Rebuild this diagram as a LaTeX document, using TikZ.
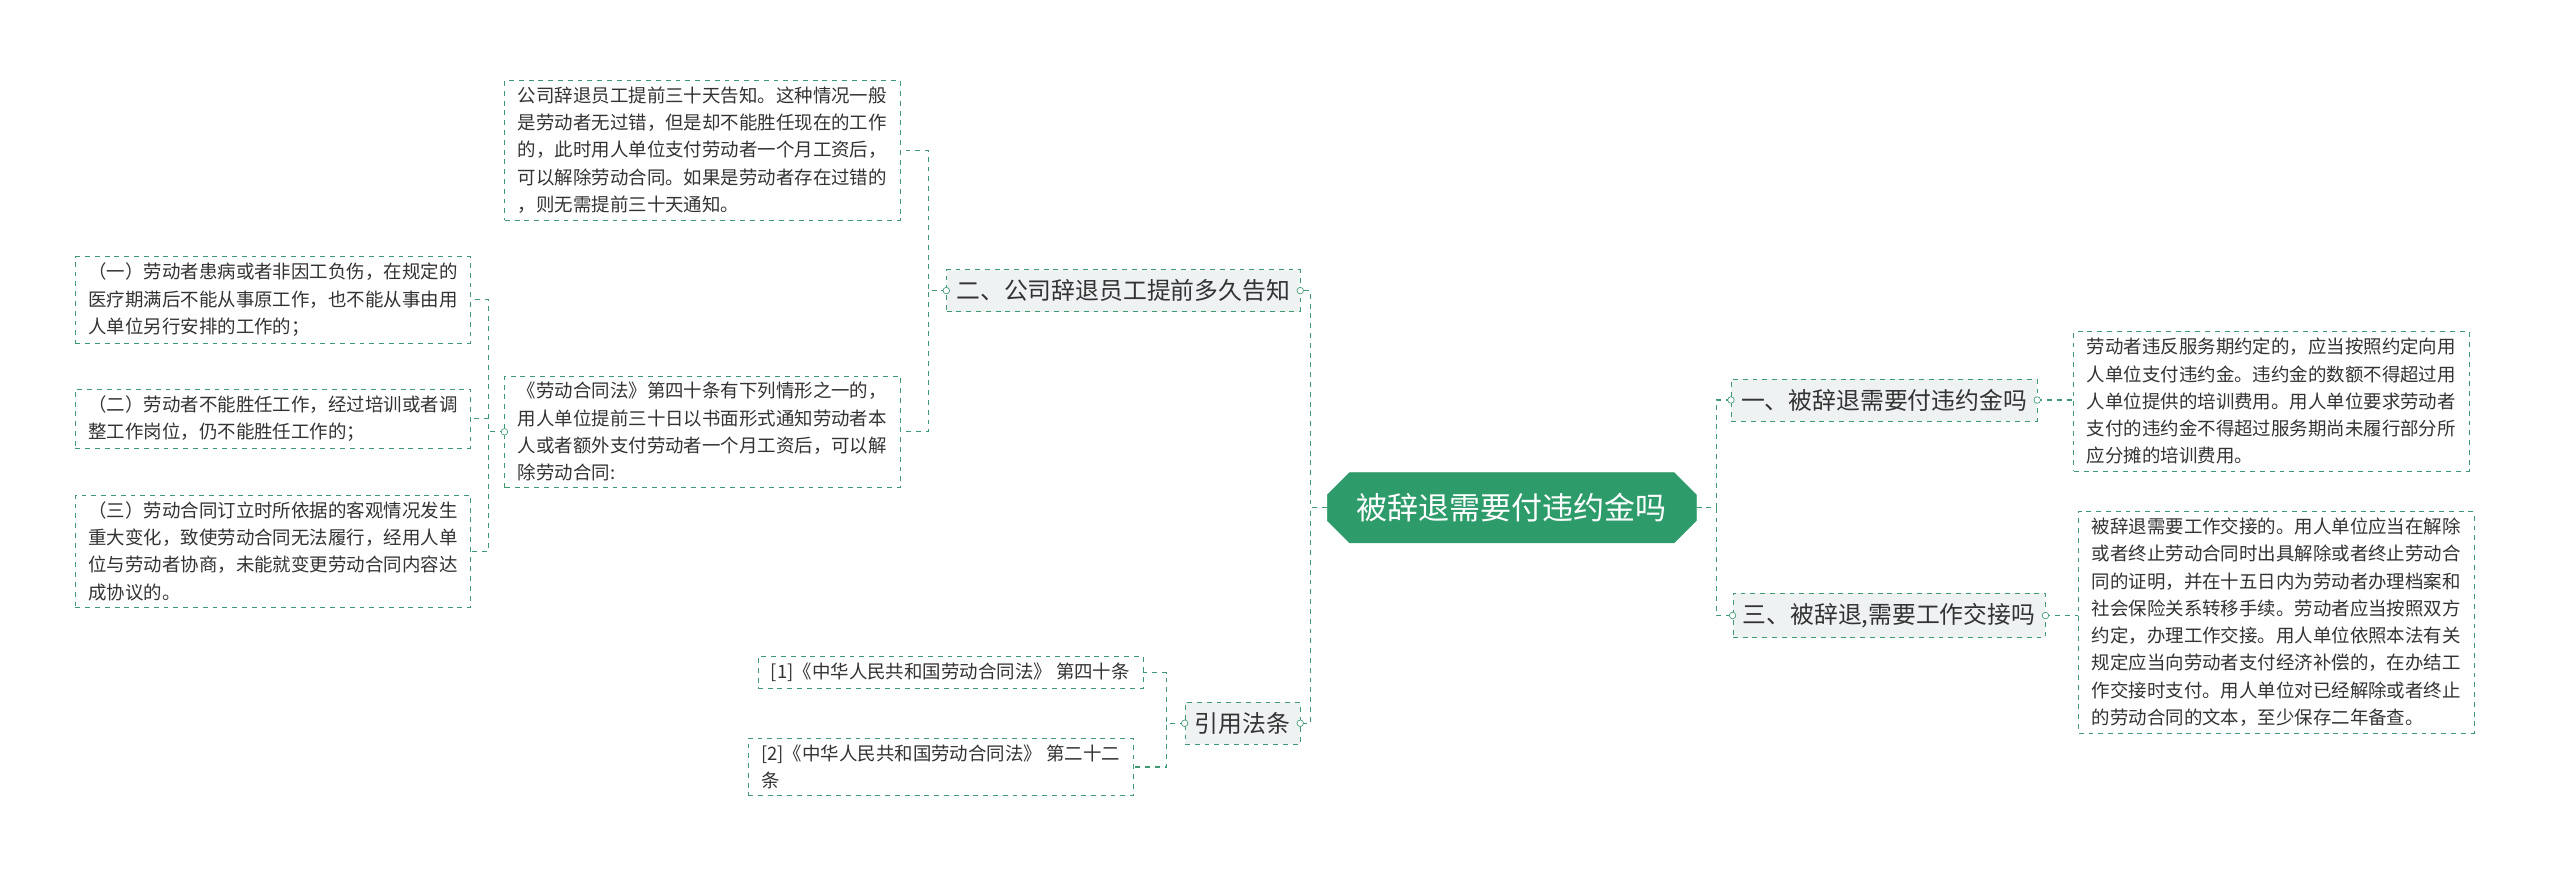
\documentclass[tikz,border=0pt]{standalone}
\usepackage{fontspec}
\setmainfont{Noto Sans CJK SC}
\usetikzlibrary{shapes.misc}
\definecolor{gline}{HTML}{3F9A72}
\definecolor{gfill}{HTML}{2E9B6B}
\definecolor{bfill}{HTML}{EEF2F3}
\definecolor{tcol}{HTML}{333333}
\tikzset{
  x=1pt,y=-1pt,
  leaf/.style={draw=gline,dashed,fill=white,align=left,anchor=north west,inner xsep=8pt,inner ysep=4pt,text=tcol,font=\fontsize{11.3}{16.7}\selectfont},
  branch/.style={draw=gline,dashed,fill=bfill,text=tcol,inner xsep=6pt,inner ysep=6pt,font=\fontsize{14.6}{17}\selectfont},
  conn/.style={draw=gline,dashed,line width=0.8pt},
  dot/.style={circle,draw=gline,fill=white,inner sep=0pt,minimum size=4pt,solid}
}
\begin{document}
\begin{tikzpicture}
\useasboundingbox (0,0) rectangle (1568,543);
\node[chamfered rectangle,chamfered rectangle xsep=10pt,fill=gfill,draw=gfill,text=white,font=\fontsize{19}{22}\selectfont,minimum height=43pt,minimum width=217pt,inner xsep=8pt] (c) at (926,311) {被辞退需要付违约金吗};

\node[branch] (b1) at (1154,245) {一、被辞退需要付违约金吗};
\node[branch] (b3) at (1157,377) {三、被辞退,需要工作交接吗};
\node[branch] (b2) at (688,178) {二、公司辞退员工提前多久告知};
\node[branch] (b4) at (761,443) {引用法条};

\node[leaf] (r1) at (1270,203) {劳动者违反服务期约定的，应当按照约定向用\\人单位支付违约金。违约金的数额不得超过用\\人单位提供的培训费用。用人单位要求劳动者\\支付的违约金不得超过服务期尚未履行部分所\\应分摊的培训费用。};
\node[leaf] (r3) at (1273,313) {被辞退需要工作交接的。用人单位应当在解除\\或者终止劳动合同时出具解除或者终止劳动合\\同的证明，并在十五日内为劳动者办理档案和\\社会保险关系转移手续。劳动者应当按照双方\\约定，办理工作交接。用人单位依照本法有关\\规定应当向劳动者支付经济补偿的，在办结工\\作交接时支付。用人单位对已经解除或者终止\\的劳动合同的文本，至少保存二年备查。};

\node[leaf] (l1) at (309,49) {公司辞退员工提前三十天告知。这种情况一般\\是劳动者无过错，但是却不能胜任现在的工作\\的，此时用人单位支付劳动者一个月工资后，\\可以解除劳动合同。如果是劳动者存在过错的\\，则无需提前三十天通知。};
\node[leaf] (l2) at (309,230) {《劳动合同法》第四十条有下列情形之一的，\\用人单位提前三十日以书面形式通知劳动者本\\人或者额外支付劳动者一个月工资后，可以解\\除劳动合同:};
\node[leaf] (k1) at (46,157) {（一）劳动者患病或者非因工负伤，在规定的\\医疗期满后不能从事原工作，也不能从事由用\\人单位另行安排的工作的；};
\node[leaf] (k2) at (46,238) {（二）劳动者不能胜任工作，经过培训或者调\\整工作岗位，仍不能胜任工作的；};
\node[leaf] (k3) at (46,303) {（三）劳动合同订立时所依据的客观情况发生\\重大变化，致使劳动合同无法履行，经用人单\\位与劳动者协商，未能就变更劳动合同内容达\\成协议的。};
\node[leaf] (f1) at (464,402) {[1]《中华人民共和国劳动合同法》 第四十条};
\node[leaf] (f2) at (458,452) {[2]《中华人民共和国劳动合同法》 第二十二\\条};

\path[conn] (c.east) -- ++(12,0) |- (b1.west);
\path[conn] (c.east) -- ++(12,0) |- (b3.west);
\path[conn] (c.west) -- ++(-10,0) |- (b2.east);
\path[conn] (c.west) -- ++(-10,0) |- (b4.east);
\path[conn] (b1.east) -- (b1.east -| r1.west);
\path[conn] (b3.east) -- (b3.east -| r3.west);
\path[conn] (b2.west) -- ++(-11,0) |- (l1.east);
\path[conn] (b2.west) -- ++(-11,0) |- (l2.east);
\path[conn] (l2.west) -- ++(-10,0) |- (k1.east);
\path[conn] (l2.west) -- ++(-10,0) |- (k2.east);
\path[conn] (l2.west) -- ++(-10,0) |- (k3.east);
\path[conn] (b4.west) -- ++(-11,0) |- (f1.east);
\path[conn] (b4.west) -- ++(-11,0) |- (f2.east);

\foreach \p in {b1.east,b3.east,b2.west,b2.east,b4.west,b4.east,l2.west,b1.west,b3.west}
  \node[dot] at (\p) {};
\end{tikzpicture}
\end{document}
